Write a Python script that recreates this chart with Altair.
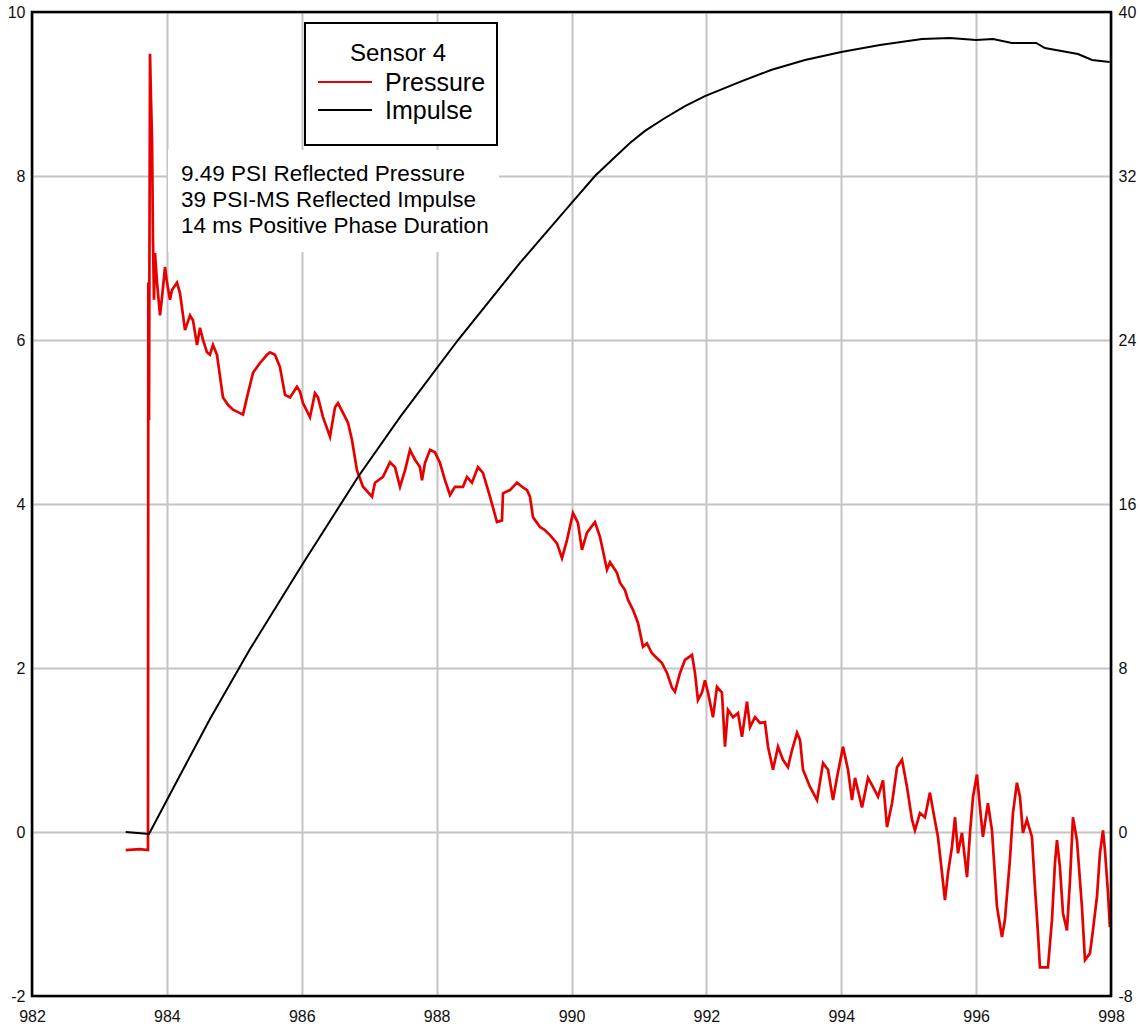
import altair as alt
import pandas as pd

# ---------------- data ----------------
pressure_time_ms = [
    983.39, 983.60, 983.72, 983.725, 983.735, 983.75, 983.765, 983.78, 983.794, 983.809,
    983.824, 983.854, 983.898, 983.928, 983.972, 984.002, 984.046, 984.076, 984.15, 984.195,
    984.269, 984.343, 984.387, 984.447, 984.491, 984.536, 984.595, 984.639, 984.684, 984.743,
    984.832, 984.906, 984.98, 985.055, 985.129, 985.188, 985.277, 985.381, 985.485, 985.529,
    985.603, 985.677, 985.752, 985.826, 985.929, 985.974, 986.018, 986.122, 986.196, 986.241,
    986.315, 986.419, 986.493, 986.537, 986.612, 986.686, 986.745, 986.819, 986.908, 987.042,
    987.086, 987.205, 987.308, 987.383, 987.457, 987.531, 987.605, 987.679, 987.753, 987.783,
    987.827, 987.902, 987.976, 988.05, 988.124, 988.198, 988.272, 988.391, 988.45, 988.524,
    988.613, 988.687, 988.791, 988.895, 988.969, 988.984, 989.088, 989.192, 989.266, 989.34,
    989.384, 989.429, 989.533, 989.607, 989.681, 989.785, 989.859, 989.933, 990.022, 990.096,
    990.155, 990.23, 990.348, 990.422, 990.526, 990.571, 990.674, 990.719, 990.793, 990.838,
    990.912, 990.986, 991.06, 991.119, 991.193, 991.268, 991.342, 991.416, 991.49, 991.534,
    991.609, 991.683, 991.787, 991.831, 991.875, 991.935, 991.979, 992.024, 992.098, 992.157,
    992.231, 992.276, 992.32, 992.395, 992.469, 992.528, 992.602, 992.647, 992.721, 992.795,
    992.869, 992.914, 992.988, 993.062, 993.136, 993.21, 993.27, 993.344, 993.389, 993.433,
    993.537, 993.641, 993.73, 993.804, 993.878, 993.938, 994.026, 994.1, 994.159, 994.204,
    994.308, 994.397, 994.471, 994.545, 994.619, 994.679, 994.753, 994.827, 994.901, 994.975,
    995.049, 995.093, 995.167, 995.241, 995.315, 995.36, 995.434, 995.494, 995.538, 995.583,
    995.642, 995.687, 995.731, 995.79, 995.865, 995.909, 995.954, 996.012, 996.057, 996.101,
    996.175, 996.235, 996.309, 996.383, 996.427, 996.501, 996.546, 996.605, 996.65, 996.694,
    996.753, 996.828, 996.872, 996.917, 996.946, 997.065, 997.125, 997.169, 997.199, 997.243,
    997.288, 997.347, 997.392, 997.436, 997.495, 997.569, 997.614, 997.688, 997.732, 997.792,
    997.836, 997.881, 997.91, 997.955, 997.984,
]
pressure_psi = [
    -0.22, -0.21, -0.22, 6.70, 5.02, 9.49, 8.93, 8.44, 7.22, 6.49,
    7.06, 6.70, 6.30, 6.52, 6.89, 6.70, 6.49, 6.61, 6.70, 6.57,
    6.12, 6.30, 6.24, 5.94, 6.15, 6.00, 5.85, 5.82, 5.94, 5.82,
    5.30, 5.21, 5.15, 5.12, 5.09, 5.30, 5.60, 5.72, 5.82, 5.85,
    5.82, 5.67, 5.33, 5.30, 5.43, 5.37, 5.23, 5.06, 5.35, 5.30,
    5.06, 4.82, 5.18, 5.23, 5.11, 4.99, 4.78, 4.41, 4.21, 4.09,
    4.26, 4.33, 4.51, 4.45, 4.21, 4.41, 4.66, 4.54, 4.45, 4.29,
    4.50, 4.66, 4.63, 4.50, 4.29, 4.11, 4.21, 4.21, 4.33, 4.26,
    4.45, 4.38, 4.09, 3.78, 3.80, 4.13, 4.17, 4.26, 4.21, 4.17,
    4.09, 3.84, 3.72, 3.68, 3.62, 3.52, 3.34, 3.56, 3.89, 3.77,
    3.44, 3.65, 3.78, 3.60, 3.20, 3.29, 3.16, 3.04, 2.95, 2.83,
    2.71, 2.55, 2.26, 2.30, 2.18, 2.12, 2.06, 1.94, 1.76, 1.71,
    1.94, 2.10, 2.16, 1.94, 1.61, 1.70, 1.85, 1.70, 1.40, 1.77,
    1.70, 1.04, 1.49, 1.40, 1.45, 1.16, 1.59, 1.28, 1.40, 1.33,
    1.34, 1.04, 0.76, 1.04, 0.88, 0.79, 1.00, 1.21, 1.12, 0.76,
    0.55, 0.39, 0.84, 0.76, 0.39, 0.67, 1.04, 0.76, 0.39, 0.66,
    0.30, 0.66, 0.55, 0.43, 0.63, 0.06, 0.35, 0.79, 0.88, 0.55,
    0.15, 0.02, 0.23, 0.18, 0.48, 0.27, -0.06, -0.50, -0.83, -0.50,
    -0.18, 0.18, -0.26, -0.01, -0.55, -0.01, 0.43, 0.70, 0.30, -0.06,
    0.35, 0.02, -0.91, -1.28, -1.07, -0.34, 0.23, 0.60, 0.43, -0.01,
    0.15, -0.06, -0.67, -1.23, -1.65, -1.65, -1.07, -0.38, -0.10, -0.43,
    -0.99, -1.20, -0.59, 0.18, -0.10, -0.91, -1.56, -1.48, -1.20, -0.79,
    -0.26, 0.02, -0.22, -0.74, -1.16,
]

impulse_time_ms = [
    983.39, 983.735, 984.15, 984.639, 985.233, 986.004, 986.834, 987.457, 988.317, 989.236,
    989.977, 990.348, 990.645, 990.867, 991.09, 991.386, 991.683, 991.979, 992.498, 992.958,
    993.462, 994.0, 994.574, 995.197, 995.612, 996.0, 996.25, 996.53, 996.89, 997.02,
    997.51, 997.72, 997.98,
]
impulse_psi_ms = [
    0.0, -0.10, 2.49, 5.51, 8.93, 13.02, 17.32, 20.24, 24.0, 27.76,
    30.59, 32.0, 32.93, 33.61, 34.20, 34.83, 35.41, 35.90, 36.59, 37.17,
    37.66, 38.05, 38.39, 38.68, 38.73, 38.63, 38.68, 38.49, 38.49, 38.24,
    37.95, 37.66, 37.56,
]

x_ticks = [982, 984, 986, 988, 990, 992, 994, 996, 998]
pressure_ticks = [-2, 0, 2, 4, 6, 8, 10]
impulse_ticks = [-8, 0, 8, 16, 24, 32, 40]

legend_title = "Sensor 4"
legend_labels = ["Pressure", "Impulse"]
annotation_lines = [
    "9.49 PSI Reflected Pressure",
    "39 PSI-MS Reflected Impulse",
    "14 ms Positive Phase Duration",
]

# ---------------- styling ----------------
W, H = 1079, 984
RED = "#e60000"
BLACK = "#000000"
GRID = "#c4c4c4"
FONT = "Liberation Sans"
LABEL_SIZE = 16
legend_colors = [RED, BLACK]

pressure_df = pd.DataFrame({
    "time": pressure_time_ms,
    "value": pressure_psi,
    "idx": list(range(len(pressure_psi))),
})
impulse_df = pd.DataFrame({
    "time": impulse_time_ms,
    "value": impulse_psi_ms,
    "idx": list(range(len(impulse_psi_ms))),
})
one = pd.DataFrame({"k": [0]})

x_scale = alt.Scale(domain=[982, 998], nice=False, zero=False)
x_axis = alt.Axis(
    values=x_ticks, title=None, labelExpr="toString(datum.value)", grid=True,
    gridColor=GRID, gridWidth=2, ticks=False, tickSize=0, domain=False,
    labelFontSize=LABEL_SIZE, labelPadding=12, labelFlush=False, labelOverlap=False,
)

pressure_line = alt.Chart(pressure_df).mark_line(
    color=RED, strokeWidth=2.7, strokeJoin="miter"
).encode(
    x=alt.X("time:Q", scale=x_scale, axis=x_axis),
    y=alt.Y(
        "value:Q",
        scale=alt.Scale(domain=[-2, 10], nice=False, zero=False),
        axis=alt.Axis(
            values=pressure_ticks, title=None, orient="left", grid=True, gridColor=GRID,
            gridWidth=2, ticks=False, tickSize=0, domain=False, labelFontSize=LABEL_SIZE,
            labelPadding=7, labelFlush=False, labelOverlap=False,
            labelExpr="toString(datum.value)",
        ),
    ),
    order="idx:Q",
)

impulse_line = alt.Chart(impulse_df).mark_line(color=BLACK, strokeWidth=2).encode(
    x=alt.X("time:Q", scale=x_scale, axis=x_axis),
    y=alt.Y(
        "value:Q",
        scale=alt.Scale(domain=[-8, 40], nice=False, zero=False),
        axis=alt.Axis(
            values=impulse_ticks, title=None, orient="right", grid=False, ticks=False,
            tickSize=0, domain=False, labelFontSize=LABEL_SIZE, labelPadding=7,
            labelFlush=False, labelOverlap=False, labelExpr="toString(datum.value)",
        ),
    ),
    order="idx:Q",
)

# annotation background (hides grid behind the text)
annot_box = alt.Chart(one).mark_rect(fill="white").encode(
    x=alt.value(136), x2=alt.value(467), y=alt.value(138), y2=alt.value(240)
)
annot_texts = [
    alt.Chart(one).mark_text(
        font=FONT, fontSize=22.5, align="left", baseline="middle", color=BLACK
    ).encode(x=alt.value(149), y=alt.value(162 + 26 * i), text=alt.value(line))
    for i, line in enumerate(annotation_lines)
]

# legend box
legend_box = alt.Chart(one).mark_rect(fill="white", stroke=BLACK, strokeWidth=2).encode(
    x=alt.value(273), x2=alt.value(465), y=alt.value(11), y2=alt.value(133)
)
legend_head = alt.Chart(one).mark_text(
    font=FONT, fontSize=24, align="center", baseline="middle", color=BLACK
).encode(x=alt.value(366), y=alt.value(42), text=alt.value(legend_title))
legend_parts = []
for i, (lab, col) in enumerate(zip(legend_labels, legend_colors)):
    yy = 70 + 28 * i
    legend_parts.append(
        alt.Chart(one).mark_rule(color=col, strokeWidth=2).encode(
            x=alt.value(286), x2=alt.value(340), y=alt.value(yy)
        )
    )
    legend_parts.append(
        alt.Chart(one).mark_text(
            font=FONT, fontSize=25, align="left", baseline="middle", color=BLACK
        ).encode(x=alt.value(353), y=alt.value(yy + 1), text=alt.value(lab))
    )

frame = alt.Chart(one).mark_rect(filled=False, stroke=BLACK, strokeWidth=2.6).encode(
    x=alt.value(0), x2=alt.value(W), y=alt.value(0), y2=alt.value(H)
)

chart = alt.layer(
    pressure_line, impulse_line, annot_box, *annot_texts, legend_box, legend_head,
    *legend_parts, frame,
).resolve_scale(y="independent").properties(
    width=W, height=H,
    padding={"left": 32, "top": 12, "right": 29, "bottom": 32},
    autosize=alt.AutoSizeParams(type="none"),
    background="white",
).configure_axis(
    labelFont=FONT, labelColor="#111111"
).configure_view(strokeWidth=0)

chart.save("out.html", embed_options={"renderer": "svg", "actions": False})
